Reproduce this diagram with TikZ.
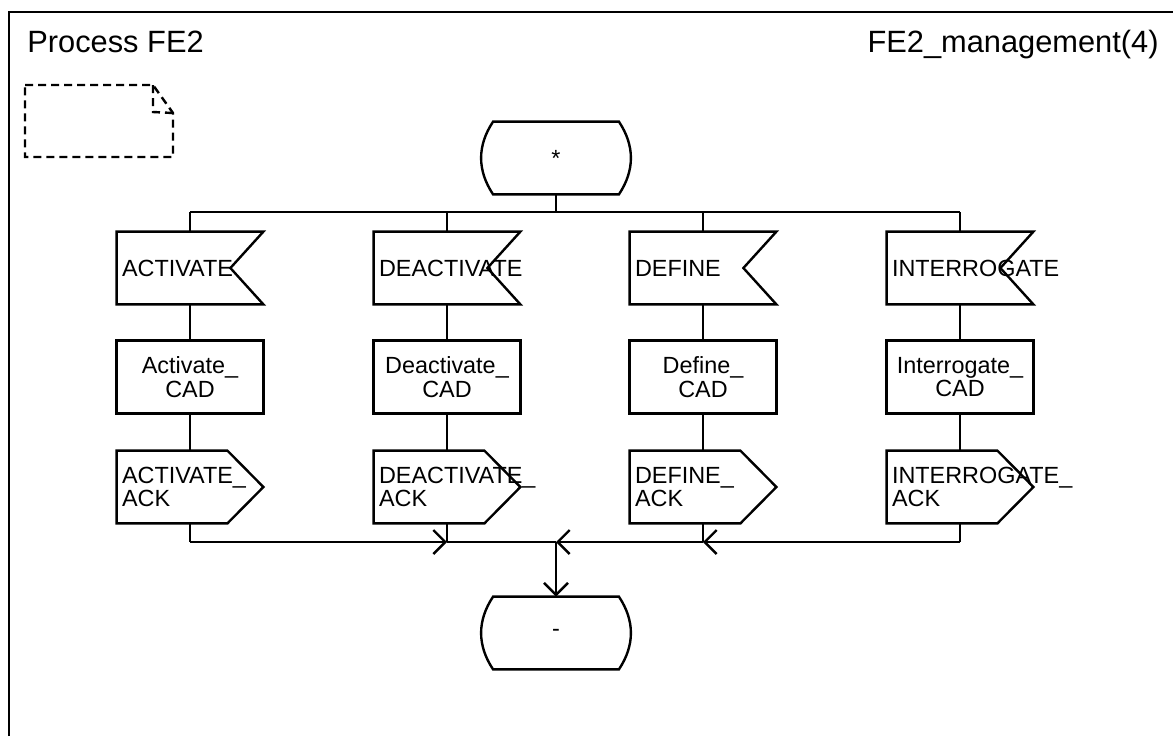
\documentclass[tikz,border=0pt]{standalone}
\usepackage{fontspec}
\setmainfont{Liberation Sans}
\usetikzlibrary{arrows.meta}
\hyphenpenalty=10000
\exhyphenpenalty=10000

\tikzset{
  sdl/.style={line width=1.2pt},
  sdltext/.style={font=\fontsize{11.7}{11.9}\selectfont, inner xsep=2.5pt, inner ysep=0pt,
    minimum height=36pt, text width=68pt},
  sdlstate/.style={sdltext, text width=57.5pt, align=center},
  sdlinput/.style={sdltext, align=left},
  sdltask/.style={sdltext, align=center},
  sdloutput/.style={sdltext, align=left},
  flow/.style={sdl, -{Straight Barb[length=6pt,width=12pt]}},
}

\begin{document}
\begin{tikzpicture}[x=0.5pt,y=-0.5pt]
\useasboundingbox (0,0) rectangle (1173,736);
\draw[sdl] (9,736) -- (9,12) -- (1173,12);
\node[anchor=base west, font=\fontsize{15.4}{18}\selectfont, inner sep=0pt] (title) at (27,52) {Process FE2};
\node[anchor=base east, font=\fontsize{15.4}{18}\selectfont, inner sep=0pt] (page) at (1159,52) {FE2\_management(4)};
% comment symbol
\draw[sdl, dash pattern=on 4pt off 2.5pt] (25,85) -- (153,85) -- (173,113) -- (173,157) -- (25,157) -- cycle;
\draw[sdl, dash pattern=on 4pt off 2.5pt] (153,85) -- (153,112) -- (173,113);
% states
\node[sdlstate] (start) at (556,158) {*};
\node[sdlstate] (next) at (556,633) {-};
\foreach \n in {start,next}
  \draw[sdl] (\n.north west) -- (\n.north east) .. controls +(8pt,-12pt) and +(8pt,12pt) .. (\n.south east)
    -- (\n.south west) .. controls +(-8pt,12pt) and +(-8pt,-12pt) .. (\n.north west) -- cycle;
% one column per signal
\foreach \x/\sig/\job [count=\i] in {190/ACTIVATE/Activate, 447/DEACTIVATE/Deactivate, 703/DEFINE/Define, 960/INTERROGATE/Interrogate}{
  \node[sdlinput] (in\i) at (\x,268) {\sig};
  \node[sdltask] (task\i) at (\x,377) {\job\_\\CAD};
  \node[sdloutput] (out\i) at (\x,487) {\sig\_\\ACK};
  \coordinate (top\i) at (\x,212);
  \coordinate (bot\i) at (\x,542);
  \draw[sdl] (in\i.north west) -- (in\i.north east) -- ([xshift=-16.5pt]in\i.east) -- (in\i.south east) -- (in\i.south west) -- cycle;
  \draw[sdl] (task\i.north west) rectangle (task\i.south east);
  \draw[sdl] (out\i.north west) -- ([xshift=-18pt]out\i.north east) -- (out\i.east) -- ([xshift=-18pt]out\i.south east) -- (out\i.south west) -- cycle;
  \draw[sdl] (top\i) -- (in\i);
  \draw[sdl] (in\i) -- (task\i);
  \draw[sdl] (task\i) -- (out\i);
  \draw[sdl] (out\i) -- (bot\i);
}
\coordinate (fork) at (556,212);
\coordinate (join) at (556,542);
\draw[sdl] (start) -- (fork);
\draw[sdl] (top1) -- (top4);
\draw[flow] (bot1) -- (bot2);
\draw[sdl] (bot2) -- (join);
\draw[flow] (bot4) -- (bot3);
\draw[flow] (bot3) -- (join);
\draw[flow] (join) -- (next);
\end{tikzpicture}
\end{document}
